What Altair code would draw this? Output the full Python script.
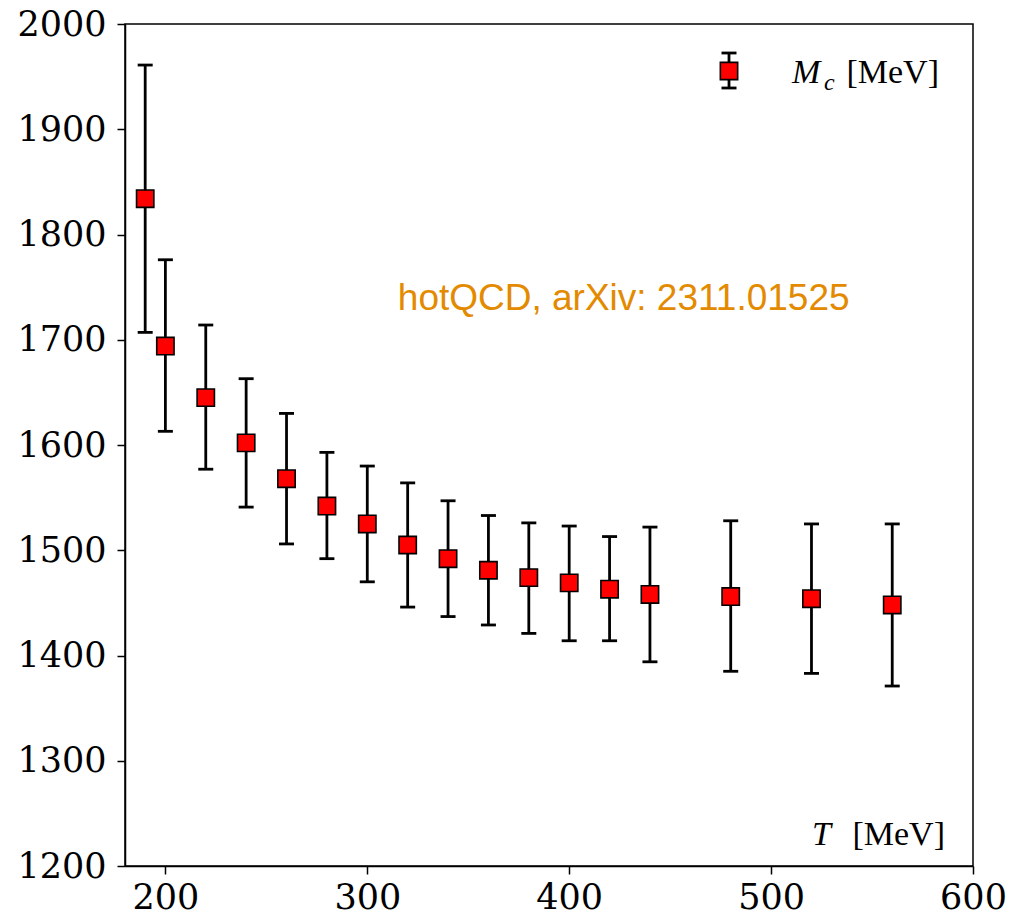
import altair as alt
import pandas as pd

# Data
T = [190, 200, 220, 240, 260, 280, 300, 320, 340, 360, 380, 400, 420, 440, 480, 520, 560]
Mc = [1834, 1694, 1645, 1602, 1568, 1542, 1525, 1505, 1492, 1481, 1474, 1469, 1463, 1458, 1456, 1454, 1448]
Mc_hi = [1961, 1776, 1714, 1663, 1630, 1593, 1580, 1564, 1547, 1533, 1526, 1523, 1513, 1522, 1528, 1525, 1525]
Mc_lo = [1707, 1613, 1577, 1541, 1506, 1492, 1470, 1446, 1437, 1429, 1421, 1414, 1414, 1394, 1385, 1383, 1371]

x_ticks = [200, 300, 400, 500, 600]
y_ticks = [1200, 1300, 1400, 1500, 1600, 1700, 1800, 1900, 2000]
annotation = "hotQCD, arXiv: 2311.01525"

df = pd.DataFrame({"T": T, "M": Mc, "hi": Mc_hi, "lo": Mc_lo})

W, H = 848, 842
SERIF = "Liberation Serif"
TICKFONT = "DejaVu Serif"

xs = alt.Scale(domain=[180, 600], nice=False, zero=False)
ys = alt.Scale(domain=[1200, 2000], nice=False, zero=False)

xax = alt.Axis(values=x_ticks, format="d", title=None, labelPadding=6,
               labelFont=TICKFONT, labelFontSize=35)
yax = alt.Axis(values=y_ticks, format="d", title=None, labelPadding=11,
               labelFont=TICKFONT, labelFontSize=35)

base = alt.Chart(df)
LW = 2.8

bars = base.mark_rule(color="black", strokeWidth=LW).encode(
    x=alt.X("T:Q", scale=xs, axis=xax),
    y=alt.Y("lo:Q", scale=ys, axis=yax),
    y2="hi:Q",
)
cap_hi = base.mark_tick(orient="horizontal", color="black", size=15, thickness=LW, opacity=1).encode(
    x=alt.X("T:Q", scale=xs, axis=xax), y=alt.Y("hi:Q", scale=ys, axis=yax)
)
cap_lo = base.mark_tick(orient="horizontal", color="black", size=15, thickness=LW, opacity=1).encode(
    x=alt.X("T:Q", scale=xs, axis=xax), y=alt.Y("lo:Q", scale=ys, axis=yax)
)
pts = base.mark_point(shape="square", filled=True, fill="#ff0000", stroke="black",
                      strokeWidth=1.6, size=300, opacity=1).encode(
    x=alt.X("T:Q", scale=xs, axis=xax), y=alt.Y("M:Q", scale=ys, axis=yax)
)

ann_df = pd.DataFrame({"x": [427], "y": [1728], "t": [annotation]})
ann = alt.Chart(ann_df).mark_text(font="Liberation Sans", fontSize=37, color="#E38A00",
                                   align="center", baseline="alphabetic").encode(
    x=alt.X("x:Q", scale=xs, axis=xax), y=alt.Y("y:Q", scale=ys, axis=yax), text="t:N"
)

one = pd.DataFrame({"a": [0]})
# legend glyph
leg_bar = alt.Chart(one).mark_rule(color="black", strokeWidth=LW).encode(
    x=alt.value(604), y=alt.value(29), y2=alt.value(64))
leg_cap1 = alt.Chart(one).mark_tick(orient="horizontal", color="black", size=15, thickness=LW, opacity=1).encode(
    x=alt.value(604), y=alt.value(29))
leg_cap2 = alt.Chart(one).mark_tick(orient="horizontal", color="black", size=15, thickness=LW, opacity=1).encode(
    x=alt.value(604), y=alt.value(64))
leg_pt = alt.Chart(one).mark_point(shape="square", filled=True, fill="#ff0000", stroke="black",
                                    strokeWidth=1.6, size=300, opacity=1).encode(
    x=alt.value(604), y=alt.value(47))

def txt(s, x, y, size, italic=False, align="left"):
    d = pd.DataFrame({"t": [s]})
    kw = dict(font=SERIF, fontSize=size, color="black", align=align, baseline="alphabetic")
    if italic:
        kw["fontStyle"] = "italic"
    return alt.Chart(d).mark_text(**kw).encode(x=alt.value(x), y=alt.value(y), text="t:N")

leg_M = txt("M", 667, 59, 34, italic=True)
leg_c = txt("c", 699, 66, 24, italic=True)
leg_u = txt("[MeV]", 814, 59, 34, align="right")

xt_T = txt("T", 687, 821, 34, italic=True)
xt_u = txt("[MeV]", 820, 821, 34, align="right")

chart = alt.layer(
    bars, cap_hi, cap_lo, pts, ann,
    leg_bar, leg_cap1, leg_cap2, leg_pt, leg_M, leg_c, leg_u, xt_T, xt_u
).properties(
    width=W, height=H,
    autosize=alt.AutoSizeParams(type="none"),
    padding={"left": 125, "top": 24, "right": 45, "bottom": 57},
    background="white",
).configure_view(stroke="black", strokeWidth=1.5
).configure_axis(
    grid=False, labelColor="black",
    tickSize=8, tickWidth=1.5, tickColor="black", domainColor="black",
    domainWidth=1.5, labelFlush=False
)

chart.save("out.html", embed_options={"renderer": "svg", "actions": False})
